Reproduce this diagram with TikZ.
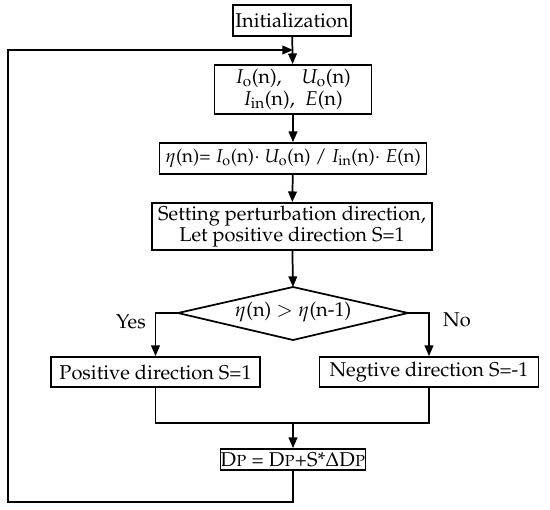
\documentclass[tikz,border=0pt]{standalone}
\usepackage[T1]{fontenc}
\usepackage{mathpazo}
\usetikzlibrary{arrows.meta}
\begin{document}
\begin{tikzpicture}[x=0.75pt,y=-0.75pt,
  box/.style={draw, line width=1.3pt, inner sep=0pt, align=center, font=\fontsize{15}{16}\selectfont},
  lbl/.style={font=\fontsize{15}{16}\selectfont},
  arr/.style={line width=1.3pt, -{Triangle[length=8pt,width=6.5pt]}},
  ln/.style={line width=1.3pt}]
\useasboundingbox (0,0) rectangle (550,510);
\node[box, minimum width=118*0.75pt, minimum height=31*0.75pt] (init) at (292,20.5) {Initialization};
\node[box, minimum width=157*0.75pt, minimum height=49*0.75pt] (meas) at (293,89.5)
  {$I_{\mathrm{o}}$(n),\quad $U_{\mathrm{o}}$(n)\\ $I_{\mathrm{in}}$(n),\ \ $E$(n)};
\node[box, font=\fontsize{14}{15}\selectfont, minimum width=267*0.75pt, minimum height=31*0.75pt] (eff) at (293,158.5)
  {$\eta$(n)= $I_{\mathrm{o}}$(n)$\cdot$ $U_{\mathrm{o}}$(n) / $I_{\mathrm{in}}$(n)$\cdot$ $E$(n)};
\node[box, minimum width=280*0.75pt, minimum height=47*0.75pt] (set) at (292,226.5)
  {Setting perturbation direction,\\ Let positive direction S=1};
\coordinate (dt) at (293,287);
\coordinate (dl) at (178,313);
\coordinate (dr) at (408,313);
\coordinate (db) at (293,340);
\draw[ln] (dt) -- (dr) -- (db) -- (dl) -- cycle;
\node[lbl] (cmp) at (293,312) {$\eta$(n) $>$ $\eta$(n-1)};
\node[box, minimum width=209*0.75pt, minimum height=30*0.75pt] (pos) at (155.5,372) {Positive direction S=1};
\node[box, minimum width=219*0.75pt, minimum height=30*0.75pt] (neg) at (429,372) {Negtive direction S=-1};
\node[lbl] (yes) at (131,322) {Yes};
\node[lbl] (no) at (457,320) {No};
\node[box, minimum width=143*0.75pt, minimum height=21*0.75pt] (dp) at (293,459.5)
  {D\textsc{p} = D\textsc{p}+S*$\Delta$D\textsc{p}};
\coordinate (m) at (293,423);
\coordinate (fb) at (293,50);
\coordinate (c1) at (293,502);
\coordinate (c2) at (8,502);
\coordinate (c3) at (8,50);
\draw[arr] (init) -- (meas);
\draw[arr] (meas) -- (eff);
\draw[arr] (eff) -- (set);
\draw[arr] (set) -- (dt);
\draw[arr] (dl) -| (pos.north);
\draw[arr] (dr) -| (neg.north);
\draw[ln] (pos.south) |- (m);
\draw[ln] (neg.south) |- (m);
\draw[arr] (m) -- (dp);
\draw[arr] (dp.south) -- (c1) -- (c2) -- (c3) -- (fb);
\end{tikzpicture}
\end{document}
